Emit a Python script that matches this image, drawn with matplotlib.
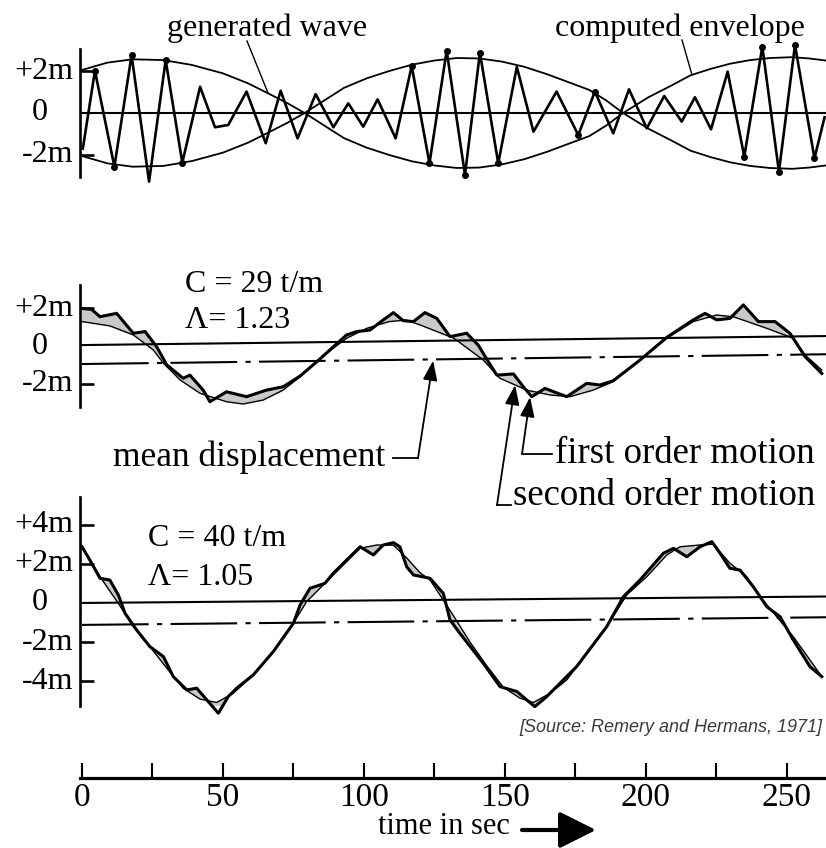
import matplotlib
matplotlib.use('Agg')
import matplotlib.pyplot as plt
from matplotlib.lines import Line2D
from matplotlib.transforms import blended_transform_factory

# top panel: generated wave group (m) against time (s), with its envelope
wave_t = [0.3, 4.6, 11.5, 17.6, 23.8, 29.7, 35.6, 41.9, 47.2, 51.9, 58.4, 65.2, 70.5, 76.5,
          82.9, 89.2, 94.5, 99.8, 104.9, 111.3, 117.0, 123.3, 129.4, 135.9, 141.2, 147.7,
          154.3, 160.2, 168.4, 176.1, 182.0, 188.5, 194.1, 200.4, 206.6, 212.8, 217.5, 223.2,
          229.1, 235.0, 241.4, 247.3, 253.0, 259.9, 263.5]
wave_y = [-1.7, 2.01, -2.56, 2.76, -3.27, 2.52, -2.37, 1.25, -0.68, -0.57, 1.02, -1.44, 1.06, -1.21,
          0.9, -0.68, 0.46, -0.65, 0.65, -1.21, 2.24, -2.4, 2.97, -2.95, 2.87, -2.4,
          2.2, -0.89, 1.02, -1.05, 1.02, -0.97, 1.13, -0.73, 0.81, -0.41, 0.75, -0.78,
          1.97, -2.08, 3.16, -2.79, 3.24, -2.16, -0.2]
wave_dots = [1, 2, 3, 5, 6, 20, 21, 22, 23, 24, 25, 29, 30, 39, 40, 41, 42, 43]

env_t = [0, 9, 18, 29, 39, 50, 59, 66, 73, 79, 86, 93, 101, 109, 117, 125, 133, 141, 149,
         157, 165, 173, 180, 186, 192, 201, 209, 216, 223, 230, 237, 244, 252, 258, 264]
env_y = [2.05, 2.4, 2.56, 2.52, 2.29, 1.89, 1.41, 0.94, 0.46, 0.0, -0.6, -1.2, -1.65, -2.0, -2.3,
         -2.5, -2.62, -2.6, -2.45, -2.2, -1.85, -1.45, -1.1, -0.6, 0.0, 0.75, 1.3, 1.8, 2.1,
         2.35, 2.52, 2.62, 2.66, 2.6, 2.5]

# middle panel: C = 29 t/m
p2_slow_t = [0, 9.9, 18.2, 25.3, 28.9, 34.8, 41.9, 51.3, 57.2, 64.3, 71.4, 77.4, 83.3, 89.2,
             93.9, 101.0, 109.0, 115.0, 120.0, 132.0, 142.4, 148.3, 157.8, 166.1, 173.2, 181.4,
             188.5, 198.0, 207.5, 216.9, 225.2, 231.1, 243.0, 252.4, 256.6, 262.5]
p2_slow_y = [1.3, 1.07, 0.59, -0.21, -0.92, -1.81, -2.52, -2.97, -3.09, -2.88, -2.35, -1.64, -0.84,
             -0.12, 0.41, 0.94, 1.3, 1.38, 1.12, 0.41, -0.75, -1.72, -2.35, -2.61, -2.7, -2.35,
             -1.9, -0.75, 0.41, 1.3, 1.65, 1.56, 0.94, 0.41, -0.48, -1.28]
p2_total_t = [0, 3.4, 6.4, 12.3, 18.2, 22.4, 26.5, 30.1, 35.9, 38.3, 43.0, 45.4, 51.3, 58.4,
              65.5, 71.4, 77.4, 83.3, 89.2, 93.9, 97.5, 102.2, 106.9, 110.5, 114.0, 117.6,
              121.7, 125.9, 130.6, 136.5, 140.6, 144.2, 147.2, 153.1, 156.6, 159.6, 164.3,
              172.0, 179.1, 183.8, 188.5, 198.0, 207.5, 216.9, 221.1, 225.2, 229.9, 234.7,
              240.0, 245.9, 251.2, 256.6, 259.5, 262.5]
p2_total_y = [2.0, 1.95, 1.56, 1.74, 0.68, 0.77, -0.04, -1.01, -1.72, -1.55, -2.35, -2.97, -2.44,
              -2.7, -2.35, -2.17, -1.6, -0.84, -0.04, 0.59, 0.77, 0.85, 1.39, 1.78, 1.35, 1.3,
              1.78, 1.47, 0.5, 0.68, 0.05, -0.84, -1.55, -1.49, -2.17, -2.7, -2.26, -2.7, -1.99,
              -2.08, -1.85, -0.75, 0.46, 1.39, 1.74, 1.39, 1.47, 2.19, 1.3, 1.3, 0.68, -0.57,
              -1.01, -1.46]

# bottom panel: C = 40 t/m
p3_slow_t = [0.5, 6.4, 12.9, 18.2, 24.1, 30.1, 35.9, 41.9, 47.8, 53.7, 60.8, 67.9, 75.0, 79.7,
             86.8, 92.7, 98.7, 104.6, 110.5, 115.2, 119.9, 123.5, 128.2, 131.8, 137.7, 143.6,
             149.5, 155.4, 160.2, 166.1, 172.0, 179.1, 186.2, 193.3, 200.4, 207.5, 212.2,
             219.3, 224.0, 229.9, 235.9, 240.6, 246.5, 252.4, 258.3, 262.5]
p3_slow_y = [2.79, 1.34, -0.02, -1.21, -2.23, -3.33, -4.35, -4.91, -5.08, -4.61, -3.67, -2.48,
             -1.04, 0.07, 1.09, 1.94, 2.79, 2.96, 2.95, 2.3, 1.55, 1.17, 0.15, -0.65, -2.0, -3.2,
             -4.3, -4.86, -5.08, -4.61, -3.93, -2.57, -1.21, 0.41, 1.34, 2.45, 2.87, 2.96, 3.0,
             2.03, 1.34, 0.32, -0.7, -1.72, -2.91, -3.76]
p3_total_t = [0, 2.8, 6.4, 9.9, 12.9, 15.3, 19.4, 24.1, 28.9, 32.4, 37.2, 40.7, 44.3, 48.4, 51.9,
              54.9, 60.8, 67.9, 75.0, 77.4, 80.9, 86.2, 89.2, 93.9, 98.7, 103.4, 106.9, 110.5,
              112.8, 115.2, 117.6, 123.5, 128.2, 130.6, 134.1, 142.4, 148.3, 154.3, 157.8,
              160.7, 164.9, 169.6, 175.5, 186.2, 192.1, 198.0, 206.3, 209.9, 214.6, 219.3,
              223.5, 226.4, 229.9, 233.5, 238.2, 243.0, 247.7, 252.4, 258.3, 262.5]
p3_total_y = [2.87, 2.19, 1.26, 1.17, 0.41, -0.53, -1.38, -2.23, -2.74, -3.76, -4.44, -4.35, -4.95,
              -5.63, -4.78, -4.35, -3.67, -2.48, -1.04, -0.1, 0.75, 1.0, 1.52, 2.19, 2.87, 2.45,
              2.96, 3.08, 2.87, 1.85, 1.43, 1.26, 0.49, -0.87, -1.55, -3.08, -4.27, -4.52, -4.95,
              -5.29, -4.78, -4.1, -3.25, -1.21, 0.32, 1.17, 2.54, 2.79, 2.36, 2.87, 3.13, 2.54,
              1.77, 1.68, 0.83, -0.19, -0.7, -1.89, -3.25, -3.76]

# reference lines (zero and mean displacement), ends at t = 0 and t = 264
line_t = [0, 264]
p2_zero = [0.05, 0.53]
p2_mean = [-0.96, -0.44]
p3_zero = [0.0, 0.33]
p3_mean = [-1.12, -0.73]

time_major = [0, 50, 100, 150, 200, 250]
time_minor = [25, 75, 125, 175, 225]

plt.rcParams['font.family'] = ['Liberation Serif', 'DejaVu Serif']

W, H = 826, 848
T0, T1 = -0.7, 264.0
FILL = '#c9c9c9'
FS = 23
FS_NOTE = 26.5


def rect(x0, y0, x1, y1):
    return [x0 / W, 1 - y1 / H, (x1 - x0) / W, (y1 - y0) / H]


def fxy(x, y):
    return (x / W, 1 - y / H)


fig = plt.figure(figsize=(W / 100, H / 100), dpi=100)


def panel(top, bottom, ylim, ticks, label_vals, labels):
    ax = fig.add_axes(rect(80, top, 826, bottom))
    ax.set_xlim(T0, T1)
    ax.set_ylim(*ylim)
    ax.patch.set_visible(False)
    for s in ['top', 'right', 'bottom']:
        ax.spines[s].set_visible(False)
    ax.spines['left'].set_linewidth(1.9)
    ax.set_xticks([])
    ax.set_yticks(ticks)
    ax.tick_params(axis='y', direction='in', length=10, width=1.9, labelleft=False)
    tr = blended_transform_factory(fig.transFigure, ax.transData)
    for v, lab in zip(label_vals, labels):
        if lab == '0':
            ax.text(40 / W, v, lab, transform=tr, ha='center', va='center', fontsize=FS)
        else:
            ax.text(73 / W, v, lab, transform=tr, ha='right', va='center', fontsize=FS)
    return ax


# ---- top panel
ax1 = panel(49, 177, (-3.05, 3.05), [2, -2], [2, 0, -2], ['+2m', '0', '-2m'])
ax1.axhline(0, color='k', lw=1.5)
ax1.plot(env_t, env_y, color='k', lw=1.3, clip_on=False)
ax1.plot(env_t, [-v for v in env_y], color='k', lw=1.3, clip_on=False)
ax1.plot(wave_t, wave_y, color='k', lw=1.9, solid_joinstyle='round', clip_on=False)
ax1.plot([wave_t[i] for i in wave_dots], [wave_y[i] for i in wave_dots], 'o',
         color='k', ms=4, clip_on=False)

fig.text(*fxy(267, 36), 'generated wave', ha='center', va='baseline', fontsize=FS)
fig.text(*fxy(680, 36), 'computed envelope', ha='center', va='baseline', fontsize=FS)
fig.add_artist(Line2D([fxy(247, 41)[0], fxy(268, 93)[0]], [fxy(247, 41)[1], fxy(268, 93)[1]],
                      color='k', lw=1.0, transform=fig.transFigure))
fig.add_artist(Line2D([fxy(682, 40)[0], fxy(692, 75)[0]], [fxy(682, 40)[1], fxy(692, 75)[1]],
                      color='k', lw=1.0, transform=fig.transFigure))

# ---- middle panel
ax2 = panel(285, 407, (-3.25, 3.25), [2, -2], [2, 0, -2], ['+2m', '0', '-2m'])
ax2.fill(p2_total_t + p2_slow_t[::-1], p2_total_y + p2_slow_y[::-1], color=FILL, lw=0)
ax2.plot(line_t, p2_zero, color='k', lw=1.5)
ax2.plot(line_t, p2_mean, color='k', lw=1.5, dashes=(32, 4, 2.5, 4))
ax2.plot(p2_slow_t, p2_slow_y, color='k', lw=1.0)
ax2.plot(p2_total_t, p2_total_y, color='k', lw=2.2, solid_joinstyle='round', clip_on=False)
fig.text(*fxy(185, 292), 'C = 29 t/m', ha='left', va='baseline', fontsize=FS)
fig.text(*fxy(185, 328), 'Λ= 1.23', ha='left', va='baseline', fontsize=FS)

# ---- bottom panel
ax3 = panel(497, 706, (-5.26, 5.41), [4, 2, -2, -4], [4, 2, 0, -2, -4],
            ['+4m', '+2m', '0', '-2m', '-4m'])
ax3.fill(p3_total_t + p3_slow_t[::-1], p3_total_y + p3_slow_y[::-1], color=FILL, lw=0)
ax3.plot(line_t, p3_zero, color='k', lw=1.5)
ax3.plot(line_t, p3_mean, color='k', lw=1.5, dashes=(32, 4, 2.5, 4))
ax3.plot(p3_slow_t, p3_slow_y, color='k', lw=1.0)
ax3.plot(p3_total_t, p3_total_y, color='k', lw=2.2, solid_joinstyle='round', clip_on=False)
fig.text(*fxy(148, 546), 'C = 40 t/m', ha='left', va='baseline', fontsize=FS)
fig.text(*fxy(148, 585), 'Λ= 1.05', ha='left', va='baseline', fontsize=FS)

# ---- annotations of the middle panel
arrow = dict(arrowstyle='-|>,head_length=0.6,head_width=0.22', color='k', lw=1.3,
             shrinkA=0, shrinkB=0, mutation_scale=20)
ax2.annotate('', xy=(124.6, -0.78), xytext=fxy(418, 458), textcoords='figure fraction',
             arrowprops=arrow)
ax2.annotate('', xy=(159.0, -2.72), xytext=fxy(522, 454), textcoords='figure fraction',
             arrowprops=arrow)
ax2.annotate('', xy=(153.7, -2.08), xytext=fxy(497, 505), textcoords='figure fraction',
             arrowprops=arrow)
for (xa, ya), (xb, yb) in [((393, 458), (418, 458)), ((522, 454), (552, 454)),
                           ((497, 505), (511, 505))]:
    fig.add_artist(Line2D([xa / W, xb / W], [1 - ya / H, 1 - yb / H], color='k', lw=1.3,
                          transform=fig.transFigure))
fig.text(*fxy(385, 466), 'mean displacement', ha='right', va='baseline', fontsize=FS_NOTE - 1)
fig.text(*fxy(555, 463), 'first order motion', ha='left', va='baseline', fontsize=FS_NOTE)
fig.text(*fxy(513, 505), 'second order motion', ha='left', va='baseline', fontsize=FS_NOTE)

fig.text(*fxy(822, 728), '[Source: Remery and Hermans, 1971]', ha='right', va='center',
         fontsize=13, style='italic', family='Liberation Sans', color='#3a3a3a')

# ---- time axis
ax4 = fig.add_axes(rect(80, 758, 826, 778))
ax4.set_xlim(T0, T1)
ax4.set_ylim(0, 1)
ax4.patch.set_visible(False)
for s in ['top', 'right', 'left']:
    ax4.spines[s].set_visible(False)
ax4.spines['bottom'].set_linewidth(2.3)
ax4.set_yticks([])
ax4.set_xticks(time_major)
ax4.set_xticks(time_minor, minor=True)
ax4.set_xticklabels([str(v) for v in time_major], fontsize=24)
ax4.tick_params(axis='x', which='both', direction='in', length=11, width=1.5, pad=3)

fig.text(*fxy(444, 827), 'time in sec', ha='center', va='center', fontsize=22)
ax4.annotate('', xy=fxy(596, 830), xycoords='figure fraction', xytext=fxy(522, 830),
             textcoords='figure fraction',
             arrowprops=dict(arrowstyle='-|>,head_length=0.9,head_width=0.45', color='k',
                             lw=3, shrinkA=0, shrinkB=0, mutation_scale=25))

fig.savefig('out.png', dpi=100)
